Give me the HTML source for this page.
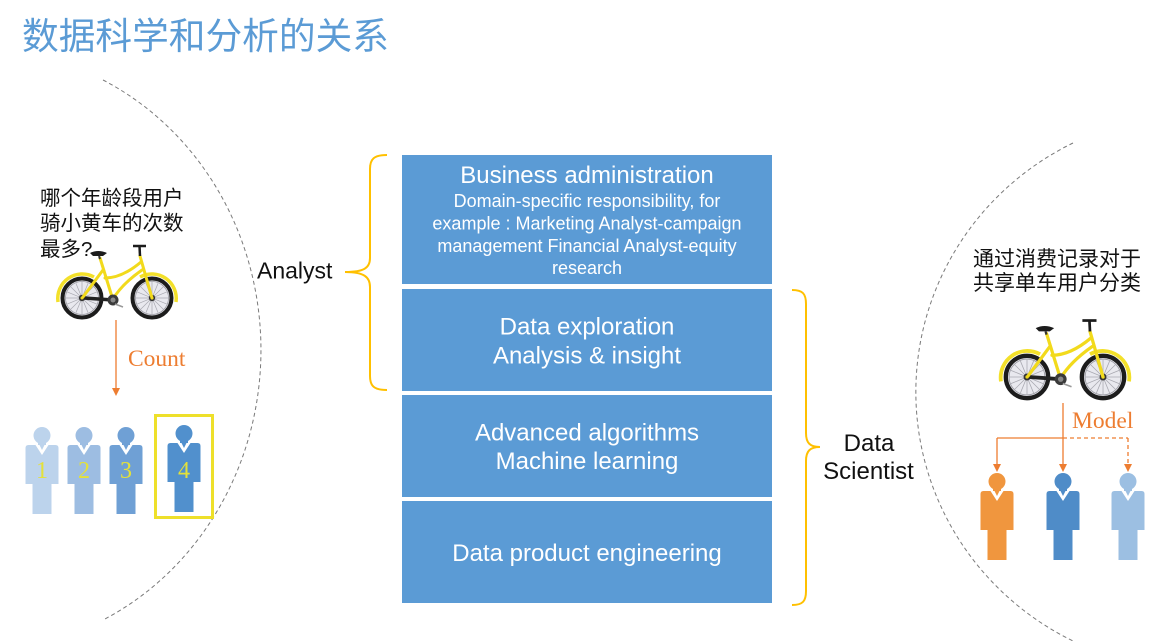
<!DOCTYPE html>
<html>
<head>
<meta charset="utf-8">
<style>
html,body{margin:0;padding:0;background:#fff;}
body{width:1157px;height:641px;overflow:hidden;position:relative;}
svg{position:absolute;left:0;top:0;}
.cjk{font-family:"Liberation Sans","Noto Sans CJK SC",sans-serif;}
.lat{font-family:"Liberation Sans",Arial,sans-serif;}
.ser{font-family:"Liberation Serif","Times New Roman",serif;}
</style>
</head>
<body>
<svg width="1157" height="641" viewBox="0 0 1157 641" xmlns="http://www.w3.org/2000/svg">
  <defs>
    <g id="wheel">
      <circle cx="0" cy="0" r="19.5" fill="#e9e9ef" stroke="#1c1c1c" stroke-width="4"/>
      <circle cx="0" cy="0" r="16.5" fill="none" stroke="#9a9aa2" stroke-width="0.8"/>
      <g stroke="#a8a8b0" stroke-width="0.7">
        <line x1="-16" y1="0" x2="16" y2="0"/>
        <line x1="0" y1="-16" x2="0" y2="16"/>
        <line x1="-11.3" y1="-11.3" x2="11.3" y2="11.3"/>
        <line x1="-11.3" y1="11.3" x2="11.3" y2="-11.3"/>
        <line x1="-14.8" y1="-6.1" x2="14.8" y2="6.1"/>
        <line x1="-14.8" y1="6.1" x2="14.8" y2="-6.1"/>
        <line x1="-6.1" y1="-14.8" x2="6.1" y2="14.8"/>
        <line x1="-6.1" y1="14.8" x2="6.1" y2="-14.8"/>
      </g>
      <circle cx="0" cy="0" r="3.2" fill="#333"/>
      <circle cx="0" cy="0" r="1.5" fill="#e8d41c"/>
    </g>
    <g id="bike">
      <!-- fenders -->
      <path d="M-24,4 A24.5,24.5 0 0 1 12,-21" fill="none" stroke="#f3e02a" stroke-width="3.5"/>
      <path d="M58,-21 A24.5,24.5 0 0 1 94,4" fill="none" stroke="#f3e02a" stroke-width="3.5"/>
      <use href="#wheel" x="0" y="0"/>
      <use href="#wheel" x="70" y="0"/>
      <!-- chain guard -->
      <line x1="2" y1="0" x2="31" y2="2" stroke="#222" stroke-width="3.5"/>
      <!-- frame -->
      <g stroke="#f2da1c" stroke-width="3" fill="none" stroke-linecap="round">
        <line x1="31" y1="2" x2="18" y2="-40"/>
        <line x1="1" y1="-1" x2="21" y2="-28"/>
        <path d="M31,1 Q40,-14 60,-28"/>
        <path d="M23,-20 Q40,-20 59,-36"/>
        <line x1="58" y1="-42" x2="70" y2="0"/>
      </g>
      <!-- crank -->
      <circle cx="31" cy="2" r="5.5" fill="#3a3a3a"/>
      <circle cx="31" cy="2" r="2.5" fill="#888"/>
      <line x1="33" y1="6" x2="41" y2="9" stroke="#999" stroke-width="1.5"/>
      <!-- seat -->
      <path d="M8,-45 Q16,-49 25,-45 L21,-42 L11,-42 Z" fill="#1c1c1c"/>
      <line x1="17" y1="-42" x2="18" y2="-39" stroke="#333" stroke-width="2"/>
      <!-- handlebar -->
      <line x1="51" y1="-52" x2="64" y2="-52" stroke="#1c1c1c" stroke-width="2.5"/>
      <line x1="57.5" y1="-52" x2="58" y2="-42" stroke="#1c1c1c" stroke-width="2.5"/>
    </g>
    <g id="person">
      <circle cx="0" cy="8.5" r="8.5"/>
      <rect x="-4" y="14" width="8" height="6"/>
      <path d="M-16.5,21 Q-16.5,18 -13.5,18 L13.5,18 Q16.5,18 16.5,21 L16.5,57 L9.5,57 L9.5,87 L-9.5,87 L-9.5,57 L-16.5,57 Z"/>
      <polygon points="-6.5,18 6.5,18 0,28" fill="#fff"/>
      <polygon points="-2.5,18 2.5,18 0,23"/>
    </g>
  </defs>

  <!-- Title -->
  <text x="22" y="49" class="cjk" font-size="36.7" fill="#5b9bd5">数据科学和分析的关系</text>

  <!-- dashed arcs -->
  <path d="M103,80 A280,300 0 0 1 103,620" fill="none" stroke="#7a7a7a" stroke-width="1" stroke-dasharray="4,3"/>
  <path d="M1073,143 A283,278 0 0 0 1073,641" fill="none" stroke="#7a7a7a" stroke-width="1" stroke-dasharray="4,3"/>

  <!-- Left question -->
  <g class="cjk" font-size="20.5" fill="#111">
    <text x="40" y="205">哪个年龄段用户</text>
    <text x="40" y="230">骑小黄车的次数</text>
    <text x="40" y="256">最多?</text>
  </g>

  <!-- Left bike -->
  <use href="#bike" transform="translate(82,298)"/>

  <!-- Count arrow -->
  <line x1="116" y1="320" x2="116" y2="389" stroke="#ed7d31" stroke-width="1.3"/>
  <polygon points="112,388 120,388 116,396" fill="#ed7d31"/>
  <text x="128" y="366" class="ser" font-size="23.5" fill="#ed7d31">Count</text>

  <!-- Left persons -->
  <use href="#person" transform="translate(42,427)" fill="#bcd3ec"/>
  <use href="#person" transform="translate(84,427)" fill="#9dbde2"/>
  <use href="#person" transform="translate(126,427)" fill="#6fa0d5"/>
  <use href="#person" transform="translate(184,425)" fill="#5190cd"/>
  <g class="ser" font-size="24" fill="#e4e13a" text-anchor="middle">
    <text x="42" y="478">1</text>
    <text x="84" y="478">2</text>
    <text x="126" y="478">3</text>
    <text x="184" y="478">4</text>
  </g>
  <rect x="155.5" y="415.5" width="57" height="102" fill="none" stroke="#eee02a" stroke-width="3"/>

  <!-- Analyst -->
  <text x="257" y="278.5" class="lat" font-size="23" fill="#111">Analyst</text>
  <path d="M387,155 C374,155 370,159 370,169 L370,258 C370,268 364,272 345,272 C364,272 370,277 370,287 L370,376 C370,386 374,390 387,390" fill="none" stroke="#ffc000" stroke-width="2"/>

  <!-- Boxes -->
  <rect x="402" y="155" width="370" height="129" fill="#5b9bd5"/>
  <rect x="402" y="289" width="370" height="102" fill="#5b9bd5"/>
  <rect x="402" y="395" width="370" height="102" fill="#5b9bd5"/>
  <rect x="402" y="501" width="370" height="102" fill="#5b9bd5"/>

  <g class="lat" fill="#fff" text-anchor="middle">
    <text x="587" y="183" font-size="24">Business administration</text>
    <text x="587" y="207" font-size="18">Domain-specific responsibility, for</text>
    <text x="587" y="229.5" font-size="18">example : Marketing Analyst-campaign</text>
    <text x="587" y="252" font-size="18">management Financial Analyst-equity</text>
    <text x="587" y="274" font-size="18">research</text>
    <text x="587" y="334.5" font-size="24">Data exploration</text>
    <text x="587" y="363.5" font-size="24">Analysis &amp; insight</text>
    <text x="587" y="440.5" font-size="24">Advanced algorithms</text>
    <text x="587" y="469" font-size="24">Machine learning</text>
    <text x="587" y="561" font-size="24">Data product engineering</text>
  </g>

  <!-- Right brace -->
  <path d="M792,290 C803,290 806,294 806,304 L806,433 C806,443 810,447 820,447 C810,447 806,451 806,461 L806,591 C806,601 803,605 792,605" fill="none" stroke="#ffc000" stroke-width="2"/>
  <g class="lat" font-size="24" fill="#111" text-anchor="middle">
    <text x="869" y="451">Data</text>
    <text x="868.5" y="479">Scientist</text>
  </g>

  <!-- Right text -->
  <g class="cjk" font-size="21" fill="#111">
    <text x="973" y="266">通过消费记录对于</text>
    <text x="973" y="290">共享单车用户分类</text>
  </g>

  <!-- Right bike -->
  <use href="#bike" transform="translate(1027,377) scale(1.086)"/>

  <!-- Model arrows -->
  <g stroke="#ed7d31" stroke-width="1.3" fill="none">
    <line x1="1063" y1="403" x2="1063" y2="465"/>
    <line x1="997" y1="438" x2="1063" y2="438"/>
    <line x1="997" y1="438" x2="997" y2="465"/>
    <line x1="1063" y1="438" x2="1128" y2="438" stroke-dasharray="4,3"/>
    <line x1="1128" y1="438" x2="1128" y2="465" stroke-dasharray="4,3"/>
  </g>
  <g fill="#ed7d31">
    <polygon points="993,464 1001,464 997,472"/>
    <polygon points="1059,464 1067,464 1063,472"/>
    <polygon points="1124,464 1132,464 1128,472"/>
  </g>
  <text x="1072" y="428" class="ser" font-size="23.5" fill="#ed7d31">Model</text>

  <!-- Right persons -->
  <use href="#person" transform="translate(997,473)" fill="#f0963e"/>
  <use href="#person" transform="translate(1063,473)" fill="#4f8cc8"/>
  <use href="#person" transform="translate(1128,473)" fill="#9cbfe2"/>
</svg>
</body>
</html>
